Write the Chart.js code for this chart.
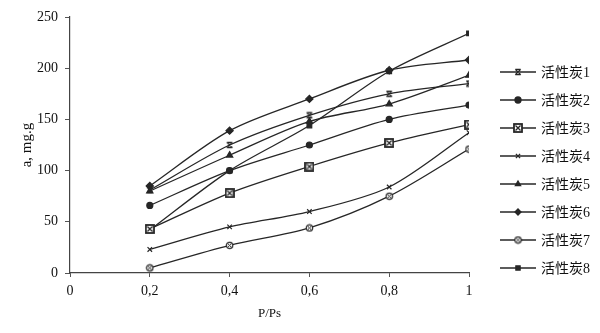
<!DOCTYPE html>
<html>
<head>
<meta charset="utf-8">
<script src="https://cdn.jsdelivr.net/npm/chart.js@4.4.0/dist/chart.umd.min.js"></script>
<style>
  html, body { margin: 0; background: #fff; }
  #wrap { width: 600px; height: 333px; }
</style>
</head>
<body>
<div id="wrap"><canvas id="isotherm"></canvas></div>
<script>
// Adsorption isotherms of eight activated carbons
const pressures = [0.2, 0.4, 0.6, 0.8, 1];
const carbon1 = [81, 125, 154, 175, 185];
const carbon2 = [66, 100, 125, 150, 164];
const carbon3 = [43, 78, 104, 127, 145];
const carbon4 = [23, 45, 60, 84, 137];
const carbon5 = [80, 115, 148, 165, 193];
const carbon6 = [85, 139, 170, 198, 208];
const carbon7 = [5, 27, 44, 75, 121];
const carbon8 = [42, 100, 144, 197, 234];
const seriesNames = ['活性炭1', '活性炭2', '活性炭3', '活性炭4', '活性炭5', '活性炭6', '活性炭7', '活性炭8'];
const xTicks = [0, 0.2, 0.4, 0.6, 0.8, 1];
const yTicks = [0, 50, 100, 150, 200, 250];

const INK = '#262626';
const SERIF = "'Liberation Serif', 'Times New Roman', serif";

// small canvases for the markers chart.js has no built-in for
function makeMarker(size, draw) {
  const c = document.createElement('canvas');
  c.width = size; c.height = size;
  const g = c.getContext('2d');
  g.strokeStyle = INK; g.fillStyle = INK;
  draw(g, size / 2);
  return c;
}

// x closed by bars top and bottom
const starMark = makeMarker(8, (g, m) => {
  g.lineWidth = 1.3;
  g.beginPath();
  g.moveTo(m - 2.7, m - 2.7); g.lineTo(m + 2.7, m + 2.7);
  g.moveTo(m + 2.7, m - 2.7); g.lineTo(m - 2.7, m + 2.7);
  g.moveTo(m - 2.7, m - 2.7); g.lineTo(m + 2.7, m - 2.7);
  g.moveTo(m - 2.7, m + 2.7); g.lineTo(m + 2.7, m + 2.7);
  g.stroke();
});

// boxed cross
const boxMark = makeMarker(10, (g, m) => {
  g.fillStyle = '#fff';
  g.fillRect(m - 4, m - 4, 8, 8);
  g.lineWidth = 1.8;
  g.strokeRect(m - 4, m - 4, 8, 8);
  g.lineWidth = 1.3;
  g.beginPath();
  g.moveTo(m - 2.5, m - 2.5); g.lineTo(m + 2.5, m + 2.5);
  g.moveTo(m + 2.5, m - 2.5); g.lineTo(m - 2.5, m + 2.5);
  g.stroke();
});

// ringed cross
const ringMark = makeMarker(9, (g, m) => {
  g.fillStyle = '#fff';
  g.beginPath(); g.arc(m, m, 3.2, 0, Math.PI * 2); g.fill();
  g.lineWidth = 1.2;
  g.stroke();
  g.lineWidth = 1;
  g.beginPath();
  g.moveTo(m - 1.6, m - 1.6); g.lineTo(m + 1.6, m + 1.6);
  g.moveTo(m + 1.6, m - 1.6); g.lineTo(m - 1.6, m + 1.6);
  g.stroke();
});

const seriesValues = [carbon1, carbon2, carbon3, carbon4, carbon5, carbon6, carbon7, carbon8];
const markerStyles = [starMark, 'circle', boxMark, 'crossRot', 'triangle', 'rectRot', ringMark, 'rect'];
const markerRadius = [3, 3, 4, 3.2, 3.6, 3.6, 3, 3.3];

const datasets = seriesValues.map((vals, i) => ({
  label: seriesNames[i],
  data: pressures.map((p, k) => ({ x: p, y: vals[k] })),
  borderColor: INK,
  backgroundColor: INK,
  borderWidth: 1.3,
  tension: 0.3,
  pointStyle: markerStyles[i],
  pointRadius: markerRadius[i],
  pointBorderWidth: 1.2,
  pointBackgroundColor: INK,
  pointBorderColor: INK
}));

// legend on the right: short line with the marker in its middle
const sideLegend = {
  id: 'sideLegend',
  afterDraw(chart) {
    const ctx = chart.ctx;
    const left = 500, len = 36, top = 72, step = 28;
    ctx.save();
    chart.data.datasets.forEach((ds, i) => {
      const y = top + i * step;
      ctx.strokeStyle = INK;
      ctx.fillStyle = INK;
      ctx.lineWidth = 1.3;
      ctx.beginPath();
      ctx.moveTo(left, y);
      ctx.lineTo(left + len, y);
      ctx.stroke();
      Chart.helpers.drawPoint(ctx, {
        pointStyle: ds.pointStyle,
        radius: Math.min(ds.pointRadius, 3),
        borderWidth: 1.2,
        rotation: 0
      }, left + len / 2, y);
      ctx.fillStyle = '#111';
      ctx.font = "14px 'Liberation Serif', 'Noto Sans CJK SC', serif";
      ctx.textBaseline = 'middle';
      ctx.textAlign = 'left';
      ctx.fillText(ds.label, left + len + 5, y + 1);
    });
    ctx.restore();
  }
};

new Chart(document.getElementById('isotherm'), {
  type: 'line',
  data: { datasets },
  plugins: [sideLegend],
  options: {
    responsive: true,
    maintainAspectRatio: false,
    animation: false,
    layout: { padding: { left: 12, right: 131, top: 17, bottom: 12 } },
    plugins: {
      legend: { display: false },
      tooltip: { enabled: false }
    },
    scales: {
      x: {
        type: 'linear',
        min: 0,
        max: 1,
        afterBuildTicks: s => { s.ticks = xTicks.map(v => ({ value: v })); },
        afterFit: s => { s.height = 333 - 273 - 12; },
        grid: { display: true, drawOnChartArea: false, tickLength: 4, color: '#555', lineWidth: 1 },
        border: { display: true, color: '#444', width: 1.2 },
        ticks: {
          color: '#111',
          font: { family: SERIF, size: 14 },
          padding: 6,
          maxRotation: 0,
          callback: v => String(v).replace('.', ',')
        },
        title: {
          display: true,
          text: 'P/Ps',
          color: '#111',
          font: { family: SERIF, size: 13 },
          padding: { top: 2, bottom: 0 }
        }
      },
      y: {
        min: 0,
        max: 250,
        afterBuildTicks: s => { s.ticks = yTicks.map(v => ({ value: v })); },
        afterFit: s => { s.width = 70 - 12; },
        grid: { display: true, drawOnChartArea: false, tickLength: 5, color: '#555', lineWidth: 1 },
        border: { display: true, color: '#444', width: 1.2 },
        ticks: {
          color: '#111',
          font: { family: SERIF, size: 14 },
          padding: 7
        },
        title: {
          display: true,
          text: 'a, mg.g',
          color: '#111',
          font: { family: SERIF, size: 15 },
          padding: { top: 6, bottom: 4 }
        }
      }
    }
  }
});
</script>
</body>
</html>
